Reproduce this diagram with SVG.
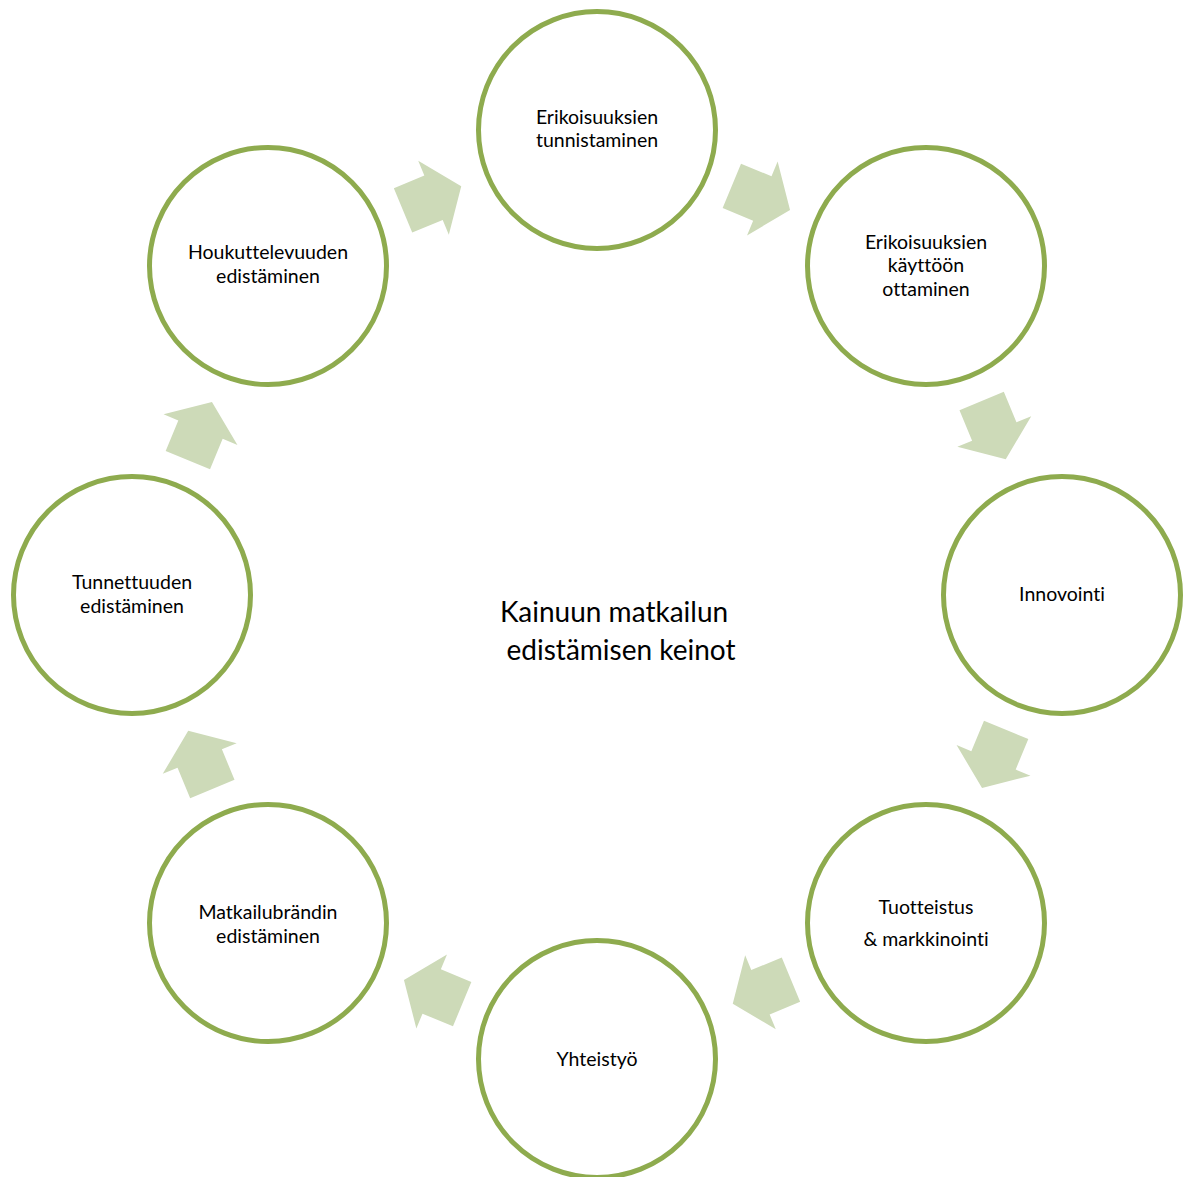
<svg xmlns="http://www.w3.org/2000/svg" xmlns:xlink="http://www.w3.org/1999/xlink" width="1192" height="1177" viewBox="0 0 1192 1177">
<style>
.node circle{fill:#ffffff;stroke:#8eab4e;stroke-width:5}
.node text{font-family:Lato,"Liberation Sans",sans-serif;font-size:19.5px;fill:#000;text-anchor:middle;font-variant-ligatures:none}
.title{font-family:Lato,"Liberation Sans",sans-serif;font-size:28px;fill:#000;text-anchor:middle;font-variant-ligatures:none}
.arrow{fill:#cddab8}
</style>
<defs>
<path id="arr" d="M-32,-24 L1,-24 L1,-40 L31,0 L1,40 L1,24 L-32,24 Z"/>
</defs>
<rect width="1192" height="1177" fill="#ffffff"/>
<g id="connectors">
<use xlink:href="#arr" class="arrow" transform="translate(761.4,198.1) rotate(22.5)"/>
<use xlink:href="#arr" class="arrow" transform="translate(993.9,430.6) rotate(67.5)"/>
<use xlink:href="#arr" class="arrow" transform="translate(993.9,759.4) rotate(112.5)"/>
<use xlink:href="#arr" class="arrow" transform="translate(761.4,991.9) rotate(157.5)"/>
<use xlink:href="#arr" class="arrow" transform="translate(432.6,991.9) rotate(202.5)"/>
<use xlink:href="#arr" class="arrow" transform="translate(200.1,759.4) rotate(247.5)"/>
<use xlink:href="#arr" class="arrow" transform="translate(200.1,430.6) rotate(292.5)"/>
<use xlink:href="#arr" class="arrow" transform="translate(432.6,198.1) rotate(337.5)"/>
</g>
<g id="node1" class="node"><circle cx="597" cy="130" r="118.5"/><text x="597" y="124">Erikoisuuksien</text><text x="597" y="147">tunnistaminen</text></g>
<g id="node2" class="node"><circle cx="926" cy="266" r="118.5"/><text x="926" y="249">Erikoisuuksien</text><text x="926" y="272">käyttöön</text><text x="926" y="296">ottaminen</text></g>
<g id="node3" class="node"><circle cx="1062" cy="595" r="118.5"/><text x="1062" y="601">Innovointi</text></g>
<g id="node4" class="node"><circle cx="926" cy="923" r="118.5"/><text x="926" y="914">Tuotteistus</text><text x="926" y="946">&amp; markkinointi</text></g>
<g id="node5" class="node"><circle cx="597" cy="1059" r="118.5"/><text x="597" y="1066">Yhteistyö</text></g>
<g id="node6" class="node"><circle cx="268" cy="923" r="118.5"/><text x="268" y="919">Matkailubrändin</text><text x="268" y="943">edistäminen</text></g>
<g id="node7" class="node"><circle cx="132" cy="595" r="118.5"/><text x="132" y="589">Tunnettuuden</text><text x="132" y="613">edistäminen</text></g>
<g id="node8" class="node"><circle cx="268" cy="266" r="118.5"/><text x="268" y="259">Houkuttelevuuden</text><text x="268" y="283">edistäminen</text></g>
<g id="center"><text class="title" x="614" y="622">Kainuun matkailun</text><text class="title" x="621" y="660">edistämisen keinot</text></g>
</svg>
